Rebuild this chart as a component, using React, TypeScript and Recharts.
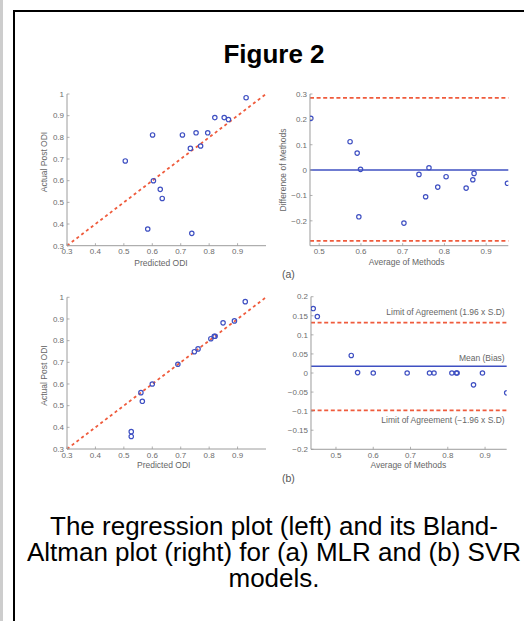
import React from 'react';
import { ScatterChart, Scatter, XAxis, YAxis, ReferenceLine } from 'recharts';

// ---- Data ----
const mlrPredicted = [0.93, 0.82, 0.853, 0.868, 0.601, 0.706, 0.754, 0.795, 0.734, 0.77, 0.505, 0.604, 0.628, 0.635, 0.584, 0.739];
const mlrActual = [0.983, 0.891, 0.891, 0.882, 0.811, 0.811, 0.821, 0.821, 0.749, 0.76, 0.691, 0.6, 0.56, 0.518, 0.377, 0.357];

const svrPredicted = [0.927, 0.889, 0.849, 0.818, 0.821, 0.806, 0.761, 0.748, 0.69, 0.6, 0.56, 0.565, 0.526, 0.526];
const svrActual = [0.98, 0.891, 0.882, 0.82, 0.82, 0.809, 0.762, 0.749, 0.691, 0.6, 0.56, 0.52, 0.38, 0.358];

const mlrAverage = [0.48, 0.574, 0.591, 0.599, 0.595, 0.703, 0.739, 0.763, 0.755, 0.784, 0.804, 0.852, 0.868, 0.871, 0.951];
const mlrDifference = [0.204, 0.112, 0.067, 0.003, -0.184, -0.209, -0.017, 0.009, -0.105, -0.067, -0.026, -0.071, -0.038, -0.013, -0.052];

const svrAverage = [0.439, 0.45, 0.541, 0.558, 0.6, 0.691, 0.751, 0.763, 0.811, 0.823, 0.825, 0.893, 0.869, 0.958];
const svrDifference = [0.169, 0.148, 0.046, 0.001, 0, 0, 0, 0, 0, 0, 0, 0, -0.031, -0.052];

const mlrBias = 0;
const mlrLimits = [0.285, -0.279];
const svrBias = 0.0175;
const svrLimits = [0.132, -0.098];

const identityLine = [0.3, 1];

const regXTicks = [0.3, 0.4, 0.5, 0.6, 0.7, 0.8, 0.9];
const regYTicks = [0.3, 0.4, 0.5, 0.6, 0.7, 0.8, 0.9, 1];
const baXTicks = [0.5, 0.6, 0.7, 0.8, 0.9];
const baAYTicks = [-0.2, -0.1, 0, 0.1, 0.2, 0.3];
const baBYTicks = [-0.2, -0.15, -0.1, -0.05, 0, 0.05, 0.1, 0.15, 0.2];

// ---- Styles ----
const FONT = '"Liberation Sans", Arial, sans-serif';
const BLUE = '#3f50c2';
const RED = '#ef5b3c';
const AXIS = '#9c9c9c';
const TICK_TEXT = '#6c6c6c';
const TITLE_TEXT = '#666';

const toPoints = (xs: number[], ys: number[]) => xs.map((x, i) => ({ x, y: ys[i] }));

const fmt = (v: number) => {
  const r = Math.round(v * 1000) / 1000;
  if (r === 0) return '0';
  return String(r).replace('-', '\u2212');
};

const YTick = (props: any) => {
  const { x, y, payload } = props;
  return (
    <g>
      <line x1={x + 3} y1={y} x2={x + 5.5} y2={y} stroke={AXIS} strokeWidth={0.8} />
      <text x={x} y={y} dy="0.35em" textAnchor="end" fontSize={8} fill={TICK_TEXT} fontFamily={FONT}>
        {fmt(payload.value)}
      </text>
    </g>
  );
};

const XTick = (props: any) => {
  const { x, y, payload } = props;
  return (
    <g>
      <line x1={x} y1={y - 3} x2={x} y2={y - 5.5} stroke={AXIS} strokeWidth={0.8} />
      <text x={x} y={y} dy="0.72em" textAnchor="middle" fontSize={8} fill={TICK_TEXT} fontFamily={FONT}>
        {fmt(payload.value)}
      </text>
    </g>
  );
};

const Circle = (p: any) => (
  <circle cx={p.cx} cy={p.cy} r={2.2} fill="none" stroke={BLUE} strokeWidth={1.2} />
);

type Box = { l: number; t: number; r: number; b: number };
type Title = { text: string; x: number; y: number };

function Panel(props: {
  left: number; top: number; width: number; height: number; plot: Box;
  xDomain: number[]; yDomain: number[]; xTicks: number[]; yTicks: number[];
  data: { x: number; y: number }[]; xTitle: Title; yTitle?: Title; children?: React.ReactNode;
}) {
  const { left, top, width, height, plot } = props;
  const margin = { top: plot.t - top, right: left + width - plot.r, left: 0, bottom: 0 };
  const yw = plot.l - left;
  const xh = top + height - plot.b;
  const xt = props.xTitle;
  const yt = props.yTitle;
  return (
    <div style={{ position: 'absolute', left, top, width, height }}>
      <ScatterChart width={width} height={height} margin={margin}>
        <XAxis
          type="number" dataKey="x" domain={props.xDomain} ticks={props.xTicks} interval={0}
          height={xh} tickSize={0} tickMargin={3} tick={<XTick />} stroke={AXIS} allowDataOverflow
          label={() => (
            <text x={xt.x - left} y={xt.y - top} textAnchor="middle" fontSize={8.5} fill={TITLE_TEXT} fontFamily={FONT}>
              {xt.text}
            </text>
          )}
        />
        <YAxis
          type="number" dataKey="y" domain={props.yDomain} ticks={props.yTicks} interval={0}
          width={yw} tickSize={0} tickMargin={3} tick={<YTick />} stroke={AXIS} allowDataOverflow
          label={yt ? () => (
            <text
              x={yt.x - left} y={yt.y - top} textAnchor="middle" fontSize={8.5} fill={TITLE_TEXT} fontFamily={FONT}
              transform={`rotate(-90, ${yt.x - left}, ${yt.y - top})`}
            >
              {yt.text}
            </text>
          ) : undefined}
        />
        {props.children}
        <Scatter data={props.data} shape={Circle} isAnimationActive={false} />
      </ScatterChart>
    </div>
  );
}

const lineLabel = (text: string, dy: number) => (p: any) => {
  const vb = p.viewBox || { x: 0, y: 0, width: 0 };
  return (
    <text x={vb.x + vb.width - 2} y={vb.y + dy} textAnchor="end" fontSize={8.5} fill={TITLE_TEXT} fontFamily={FONT}>
      {text}
    </text>
  );
};

export default function App() {
  const diag = [
    { x: identityLine[0], y: identityLine[0] },
    { x: identityLine[1], y: identityLine[1] },
  ];
  return (
    <div style={{ position: 'fixed', left: 0, top: 0, width: 524, height: 621, overflow: 'hidden', background: '#fff', fontFamily: FONT }}>
      <div style={{ position: 'absolute', left: 0, top: 0, width: 3, height: 621, background: '#cdcdcd' }} />
      <div style={{ position: 'absolute', left: 13, top: 10, width: 560, height: 700, border: '2px solid #000', boxSizing: 'border-box' }} />
      <div style={{ position: 'absolute', left: 14, top: 41, width: 520, textAlign: 'center', fontSize: 26, lineHeight: '26px', fontWeight: 'bold', color: '#000', whiteSpace: 'nowrap' }}>
        Figure 2
      </div>

      <Panel
        left={20} top={84} width={256} height={190} plot={{ l: 67, t: 94, r: 266, b: 245.7 }}
        xDomain={[0.3, 1]} yDomain={[0.3, 1]} xTicks={regXTicks} yTicks={regYTicks}
        data={toPoints(mlrPredicted, mlrActual)}
        xTitle={{ text: 'Predicted ODI', x: 161, y: 266 }}
        yTitle={{ text: 'Actual Post ODI', x: 46.5, y: 162 }}
      >
        <ReferenceLine segment={diag} stroke={RED} strokeWidth={1.8} strokeDasharray="3 3" ifOverflow="visible" />
      </Panel>

      <Panel
        left={262} top={84} width={256.3} height={190} plot={{ l: 310, t: 94, r: 508.3, b: 245.7 }}
        xDomain={[0.478, 0.953]} yDomain={[-0.298, 0.3]} xTicks={baXTicks} yTicks={baAYTicks}
        data={toPoints(mlrAverage, mlrDifference)}
        xTitle={{ text: 'Average of Methods', x: 406.7, y: 264.7 }}
        yTitle={{ text: 'Difference of Methods', x: 286, y: 170 }}
      >
        <ReferenceLine y={mlrLimits[0]} stroke={RED} strokeWidth={1.8} strokeDasharray="4 2.6" />
        <ReferenceLine y={mlrBias} stroke={BLUE} strokeWidth={1.5} />
        <ReferenceLine y={mlrLimits[1]} stroke={RED} strokeWidth={1.8} strokeDasharray="4 2.6" />
      </Panel>

      <Panel
        left={20} top={287} width={256} height={190} plot={{ l: 67, t: 297.3, r: 266, b: 449 }}
        xDomain={[0.3, 1]} yDomain={[0.3, 1]} xTicks={regXTicks} yTicks={regYTicks}
        data={toPoints(svrPredicted, svrActual)}
        xTitle={{ text: 'Predicted ODI', x: 163.7, y: 468.3 }}
        yTitle={{ text: 'Actual Post ODI', x: 46.5, y: 375.5 }}
      >
        <ReferenceLine segment={diag} stroke={RED} strokeWidth={1.8} strokeDasharray="3 3" ifOverflow="visible" />
      </Panel>

      <Panel
        left={262} top={287} width={254.7} height={190} plot={{ l: 311, t: 296.7, r: 506.7, b: 449.3 }}
        xDomain={[0.433, 0.958]} yDomain={[-0.2, 0.2]} xTicks={baXTicks} yTicks={baBYTicks}
        data={toPoints(svrAverage, svrDifference)}
        xTitle={{ text: 'Average of Methods', x: 408.3, y: 467.7 }}
      >
        <ReferenceLine y={svrLimits[0]} stroke={RED} strokeWidth={1.8} strokeDasharray="4 2.6"
          label={lineLabel('Limit of Agreement (1.96 x S.D)', -7.4)} />
        <ReferenceLine y={svrBias} stroke={BLUE} strokeWidth={1.5}
          label={lineLabel('Mean (Bias)', -5.3)} />
        <ReferenceLine y={svrLimits[1]} stroke={RED} strokeWidth={1.8} strokeDasharray="4 2.6"
          label={lineLabel('Limit of Agreement (\u22121.96 x S.D)', 12.4)} />
      </Panel>

      <div style={{ position: 'absolute', left: 282, top: 267.7, fontSize: 10.5, lineHeight: '12px', color: '#555', fontFamily: FONT }}>(a)</div>
      <div style={{ position: 'absolute', left: 282, top: 472.3, fontSize: 10.5, lineHeight: '12px', color: '#555', fontFamily: FONT }}>(b)</div>

      <div style={{ position: 'absolute', left: 14, top: 513, width: 520, textAlign: 'center', fontSize: 26, lineHeight: '26px', color: '#000', whiteSpace: 'nowrap' }}>
        The regression plot (left) and its Bland-<br />
        Altman plot (right) for (a) MLR and (b) SVR<br />
        models.
      </div>
    </div>
  );
}
